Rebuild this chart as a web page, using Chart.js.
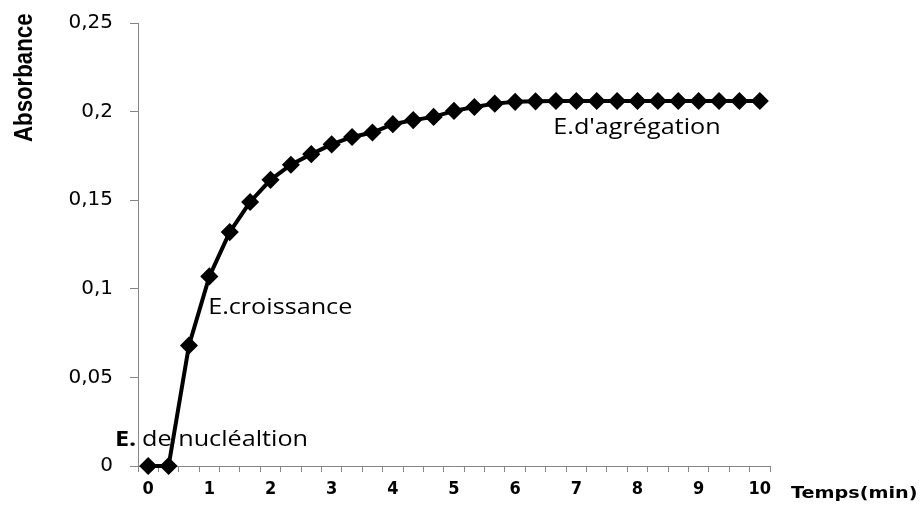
<!DOCTYPE html>
<html lang="fr">
<head>
<meta charset="UTF-8" />
<title>Absorbance</title>
<script src="https://cdn.jsdelivr.net/npm/chart.js@4.4.0/dist/chart.umd.min.js"></script>
<style>
  html, body { margin: 0; padding: 0; background: #fff; }
  #wrap { width: 920px; height: 522px; }
</style>
</head>
<body>
<div id="wrap"><canvas id="chart" width="920" height="522"></canvas></div>
<script>
  //data
  const times = [0, 0.33, 0.67, 1, 1.33, 1.67, 2, 2.33, 2.67, 3, 3.33, 3.67, 4, 4.33, 4.67, 5,
                 5.33, 5.67, 6, 6.33, 6.67, 7, 7.33, 7.67, 8, 8.33, 8.67, 9, 9.33, 9.67, 10];
  const absorbance = [0, 0, 0.068, 0.107, 0.132, 0.149, 0.1615, 0.170, 0.176, 0.1815, 0.1857,
                      0.1882, 0.1929, 0.1952, 0.197, 0.2004, 0.2026, 0.2045, 0.2055, 0.2058, 0.206,
                      0.206, 0.206, 0.206, 0.206, 0.206, 0.206, 0.206, 0.206, 0.206, 0.206];
  const yMin = 0, yMax = 0.25, yStep = 0.05;
  const yTitle = 'Absorbance';
  const xTitle = 'Temps(min)';

  // phase labels, anchored in data space (category index, absorbance at baseline)
  const notes = [
    { text: 'E.', at: [-1.63, 0.0112], bold: true },
    { text: 'de nucléaltion', at: [-0.30, 0.0112] },
    { text: 'E.croissance', at: [2.94, 0.086] },
    { text: "E.d'agrégation", at: [19.87, 0.1874] }
  ];

  const axisGrey = '#868686';

  // draws the free texts (stretched a bit, like the original picture)
  const textPlugin = {
    id: 'texts',
    afterDraw(chart) {
      const { ctx, scales, chartArea } = chart;
      const x = scales.x, y = scales.y;
      ctx.save();
      ctx.fillStyle = '#000';
      ctx.textBaseline = 'alphabetic';
      ctx.textAlign = 'left';
      notes.forEach(n => {
        ctx.save();
        ctx.font = (n.bold ? 'bold ' : '') + '21px "Open Sans", sans-serif';
        ctx.translate(x.getPixelForValue(n.at[0]), y.getPixelForValue(n.at[1]));
        ctx.scale(1.2, 1);
        ctx.fillText(n.text, 0, 0);
        ctx.restore();
      });

      // y title, rotated, top-aligned like the source
      ctx.save();
      ctx.font = 'bold 25px "Liberation Sans", Arial, sans-serif';
      ctx.translate(32, chartArea.top + 119);
      ctx.rotate(-Math.PI / 2);
      ctx.scale(0.89, 1);
      ctx.fillText(yTitle, 0, 0);
      ctx.restore();

      // x title, to the right of the axis end
      ctx.save();
      ctx.font = 'bold 16px "DejaVu Sans", sans-serif';
      ctx.translate(chartArea.right + 21, chartArea.bottom + 32);
      ctx.scale(1.2, 1);
      ctx.fillText(xTitle, 0, 0);
      ctx.restore();
      ctx.restore();
    }
  };

  const data = {
    labels: times,
    datasets: [{
      data: absorbance,
      borderColor: '#000',
      backgroundColor: '#000',
      borderWidth: 4,
      tension: 0,
      pointStyle: 'rectRot',
      pointRadius: 8,
      pointBorderWidth: 1.5,
      pointBackgroundColor: '#000',
      pointBorderColor: '#000',
      clip: false
    }]
  };

  //config
  const config = {
    type: 'line',
    data: data,
    plugins: [textPlugin],
    options: {
      responsive: false,
      animation: false,
      events: [],
      layout: { autoPadding: false, padding: { left: 0, top: 23, right: 150, bottom: 0 } },
      plugins: {
        legend: { display: false },
        tooltip: { enabled: false },
        title: { display: false }
      },
      scales: {
        x: {
          type: 'category',
          offset: true,
          grid: { offset: true, drawOnChartArea: false, drawTicks: true, tickLength: 6, color: axisGrey },
          border: { color: axisGrey, width: 1 },
          ticks: {
            autoSkip: false,
            maxRotation: 0,
            padding: 7,
            color: '#000',
            font: { family: '"Liberation Sans Narrow", "DejaVu Sans Condensed", sans-serif', size: 18, weight: 'bold' },
            callback: (v, i) => Number.isInteger(times[i]) ? String(times[i]) : ''
          },
          afterFit: s => { s.height = 56; }
        },
        y: {
          min: yMin,
          max: yMax,
          grid: { drawOnChartArea: false, drawTicks: true, tickLength: 8, color: axisGrey },
          border: { color: axisGrey, width: 1 },
          ticks: {
            stepSize: yStep,
            padding: 17,
            color: '#000',
            font: { family: '"DejaVu Sans", sans-serif', size: 20 },
            callback: v => String(Math.round(v * 100) / 100).replace('.', ',')
          },
          afterFit: s => { s.width = 138; s.paddingTop = 12; s.paddingBottom = 12; }
        }
      }
    }
  };

  //init
  const ctx = document.getElementById('chart');
  const chart = new Chart(ctx, config);
</script>
</body>
</html>
